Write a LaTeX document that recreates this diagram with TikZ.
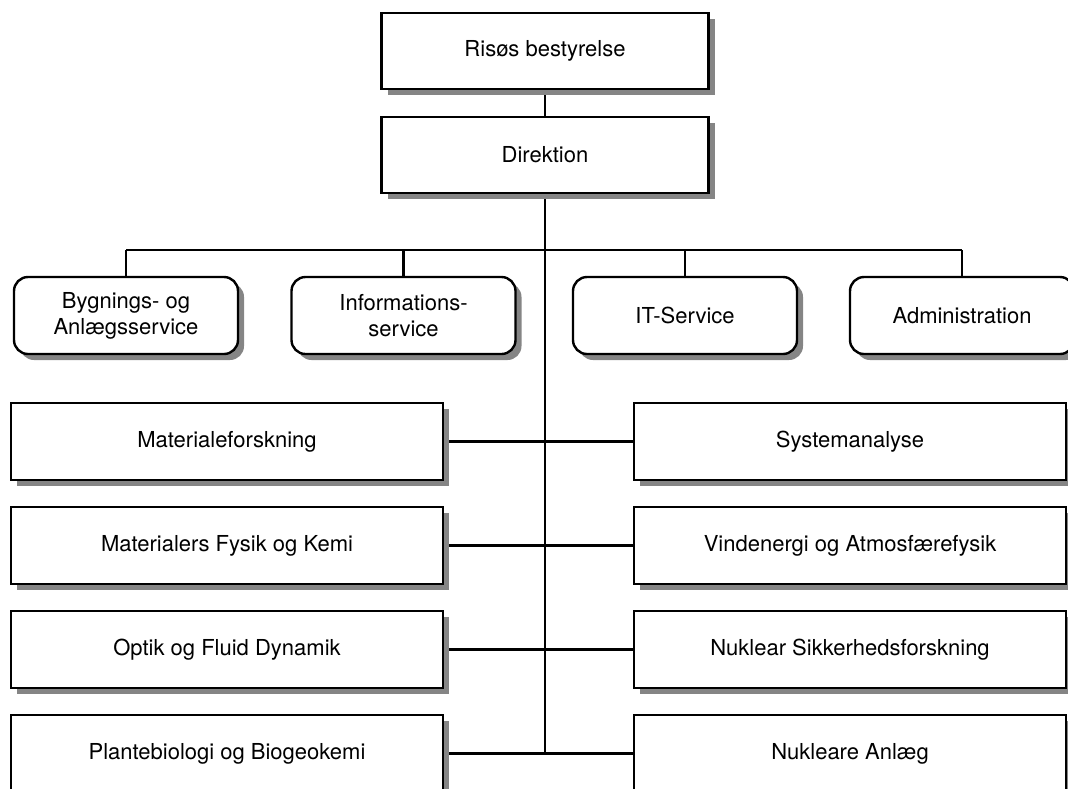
\documentclass[tikz,border=0pt]{standalone}
\usepackage{fontspec}
\setmainfont{TeX Gyre Heros}
\usetikzlibrary{shadows,backgrounds}
\definecolor{shadowgray}{HTML}{858585}
\begin{document}
\begin{tikzpicture}[x=0.5pt,y=-0.5pt,
  conn/.style={draw=black, line width=1.1pt},
  boxbase/.style={draw=black, line width=1.2pt, fill=white, inner sep=0pt, align=center,
    font=\fontsize{11}{13}\selectfont,
    drop shadow={shadow xshift=3pt, shadow yshift=-3pt, fill=shadowgray, opacity=1}},
  topbox/.style={boxbase, minimum width=163.5pt, minimum height=38pt},
  servbox/.style={boxbase, rounded corners=7pt, minimum width=112pt, minimum height=38.5pt},
  resbox/.style={boxbase, minimum width=216pt, minimum height=38.5pt}
]
\useasboundingbox (0,0) rectangle (1068,788);

\node[topbox] (top) at (545,51) {Risøs bestyrelse};
\node[topbox] (dir) at (545,155) {Direktion};

\node[servbox] (s1) at (126,315.5) {Bygnings- og\\Anlægsservice};
\node[servbox] (s2) at (403.5,315.5) {Informations-\\service};
\node[servbox] (s3) at (685,315.5) {IT-Service};
\node[servbox] (s4) at (962,315.5) {Administration};

\node[resbox] (l1) at (227,441.5) {Materialeforskning};
\node[resbox] (l2) at (227,545.5) {Materialers Fysik og Kemi};
\node[resbox] (l3) at (227,649.5) {Optik og Fluid Dynamik};
\node[resbox] (l4) at (227,753.5) {Plantebiologi og Biogeokemi};

\node[resbox] (r1) at (850,441.5) {Systemanalyse};
\node[resbox] (r2) at (850,545.5) {Vindenergi og Atmosfærefysik};
\node[resbox] (r3) at (850,649.5) {Nuklear Sikkerhedsforskning};
\node[resbox] (r4) at (850,753.5) {Nukleare Anlæg};

\coordinate (busl) at (126,250);
\coordinate (busr) at (962,250);
\coordinate (tend) at (545,753.5);

\begin{scope}[on background layer]
  \draw[conn] (top.south) -- (dir.north);
  \draw[conn] (dir.south) -- (tend);
  \draw[conn] (busl) -- (busr);
  \draw[conn] (busl) -- (s1.north);
  \draw[conn] (s2.north |- busl) -- (s2.north);
  \draw[conn] (s3.north |- busl) -- (s3.north);
  \draw[conn] (busr) -- (s4.north);
  \draw[conn] (l1.east) -- (r1.west);
  \draw[conn] (l2.east) -- (r2.west);
  \draw[conn] (l3.east) -- (r3.west);
  \draw[conn] (l4.east) -- (r4.west);
\end{scope}
\end{tikzpicture}
\end{document}
